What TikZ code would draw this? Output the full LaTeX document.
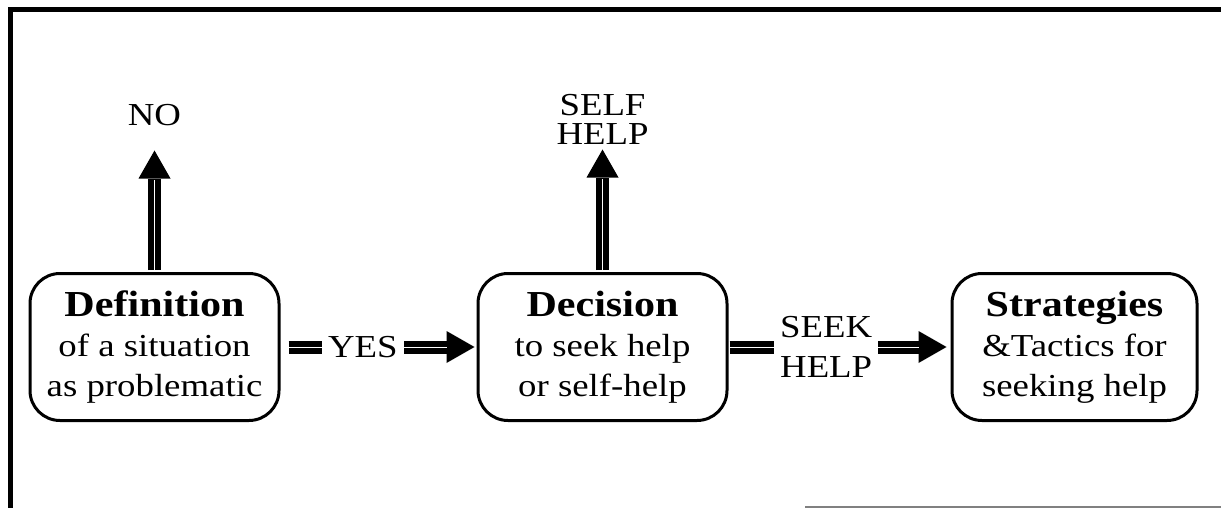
\documentclass[tikz,border=0pt]{standalone}
\usepackage{fontspec}
\setmainfont[FakeStretch=1.15]{Liberation Serif}
\usepackage{tikz}
\usetikzlibrary{positioning}
\usetikzlibrary{arrows.meta}

\begin{document}
\begin{tikzpicture}[x=0.5pt,y=-0.5pt,
  box/.style={draw,line width=1.5pt,rounded corners=15pt,minimum width=124.5pt,minimum height=73.5pt,align=center,font=\fontsize{16}{20}\selectfont},
  lbl/.style={inner sep=1pt,align=center,font=\fontsize{16}{20}\selectfont},
  bigarrow/.style={line width=6.5pt,-{Triangle[length=14pt,width=16pt,line width=0pt]},postaction={draw=white,line width=0.45pt,-,shorten >=#1}},
  bigarrow/.default=15pt]
  \useasboundingbox (0,0) rectangle (1221,508);
  \draw[line width=2.5pt] (10,508) -- (10,10) -- (1221,10);
  \draw[gray,line width=1pt] (805,507) -- (1221,507);
  \node[box] (def) at (154.5,347) {{\fontsize{18.3}{20}\selectfont\bfseries Definition}\\of a situation\\as problematic};
  \node[box,right=98pt of def] (dec) {{\fontsize{18.3}{20}\selectfont\bfseries Decision}\\to seek help\\or self-help};
  \node[box,right=111pt of dec,minimum width=122.5pt] (str) {{\fontsize{18.3}{20}\selectfont\bfseries Strategies}\\\&Tactics for\\seeking help};
  \node[lbl,above=72pt of def] (no) {NO};
  \node[lbl,above=62.5pt of dec,font=\fontsize{16}{14.5}\selectfont] (self) {SELF\\HELP};
  \draw[bigarrow=26pt,shorten <=1pt,shorten >=11.25pt] (def) -- (no);
  \draw[bigarrow=16pt,shorten <=1pt,shorten >=1.25pt] (dec) -- (self);
  \draw[bigarrow=15pt,shorten <=4pt,shorten >=1pt] (def) -- node[lbl,fill=white,pos=.42,inner sep=3pt] (yes) {YES} (dec);
  \draw[bigarrow=16pt,shorten <=0.5pt,shorten >=2pt] (dec) -- node[lbl,fill=white,pos=.44,inner sep=3pt] (seek) {SEEK\\HELP} (str);
\end{tikzpicture}
\end{document}
